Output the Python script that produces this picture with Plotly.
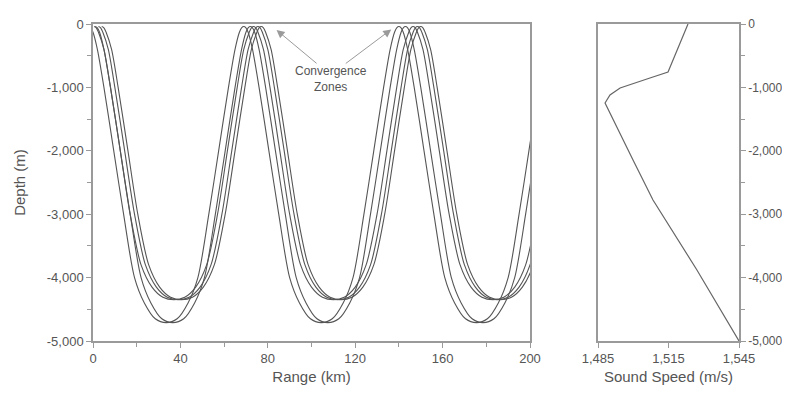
import plotly.graph_objects as go

# ---- Ray half-cycle shapes (km from a top, depth m) ----
deep_offset = [0, 1, 2, 4, 7, 11.5, 16, 21, 25.5, 30.5, 35.5]
deep_depth = [-40, -60, -130, -400, -1000, -2000, -3000, -4000, -4400, -4650, -4710]
shallow_offset = [0, 1, 2, 4.5, 7.5, 12, 16.5, 21.5, 26.5, 31.5, 36.5]
shallow_depth = [-40, -60, -130, -400, -1000, -2000, -3000, -3800, -4150, -4310, -4350]

# upper turning points (km) of each ray
ray1_tops = [-2, 69, 140]
ray2_tops = [1, 72, 143]
ray3_tops = [0.5, 73.5, 146.5]
ray4_tops = [2.5, 75.5, 148.5]
ray5_tops = [4, 77, 150]

# ---- Sound speed profile ----
speed = [1523.3, 1514.8, 1507.1, 1494.4, 1490.1, 1488.0, 1499.9, 1508.4, 1527.1, 1545.0]
speed_depth = [0, -757, -852, -1010, -1120, -1246, -2145, -2776, -3880, -5000]

depth_ticks = [0, -1000, -2000, -3000, -4000, -5000]
depth_labels = ["0", "-1,000", "-2,000", "-3,000", "-4,000", "-5,000"]
range_ticks = [0, 40, 80, 120, 160, 200]
speed_ticks = [1485, 1515, 1545]
speed_labels = ["1,485", "1,515", "1,545"]


def ray_path(tops, off, dep):
    H = off[-1]
    xs, ys = [], []
    for t in tops:
        for o, d in zip(off, dep):
            xs.append(t + o)
            ys.append(d)
        for o, d in zip(reversed(off[1:-1]), reversed(dep[1:-1])):
            xs.append(t + 2 * H - o)
            ys.append(d)
    return xs, ys


rays = [
    (ray1_tops, deep_offset, deep_depth),
    (ray2_tops, deep_offset, deep_depth),
    (ray3_tops, shallow_offset, shallow_depth),
    (ray4_tops, shallow_offset, shallow_depth),
    (ray5_tops, shallow_offset, shallow_depth),
]

fig = go.Figure()
for tops, off, dep in rays:
    xs, ys = ray_path(tops, off, dep)
    fig.add_trace(go.Scatter(x=xs, y=ys, mode="lines",
                             line=dict(color="#555555", width=1.1, shape="spline", smoothing=0.8),
                             xaxis="x", yaxis="y", showlegend=False, hoverinfo="skip"))

fig.add_trace(go.Scatter(x=speed, y=speed_depth, mode="lines",
                         line=dict(color="#666666", width=1.2),
                         xaxis="x2", yaxis="y2", showlegend=False, hoverinfo="skip"))

axis_common = dict(showline=True, linecolor="#9a9a9a", linewidth=1.5, mirror=True,
                   ticks="outside", ticklen=5, tickcolor="#9a9a9a", showgrid=False,
                   zeroline=False, automargin=False,
                   tickfont=dict(size=13, color="#555555"))

W, H = 782, 389  # page body has an 8 px margin inside the 790x397 window
X0 = 8
Y0 = 8


def dx(p):
    return (p - X0) / W


def dy(q):
    return 1 - (q - Y0) / H


fig.update_layout(
    width=W, height=H,
    margin=dict(l=0, r=0, t=0, b=0),
    paper_bgcolor="white", plot_bgcolor="white",
    font=dict(family="Liberation Sans, Arial, sans-serif", color="#555555"),
    xaxis=dict(domain=[dx(93), dx(530)], range=[0, 200], anchor="y",
               tickmode="array", tickvals=range_ticks,
               minor=dict(dtick=20, tick0=0, ticks="outside", ticklen=4, tickcolor="#9a9a9a"),
               title=dict(text="Range (km)", font=dict(size=15, color="#555555"), standoff=6),
               **axis_common),
    yaxis=dict(domain=[dy(341), dy(24)], range=[-5000, 0], anchor="x",
               tickmode="array", tickvals=depth_ticks, ticktext=depth_labels,
               minor=dict(dtick=500, tick0=0, ticks="outside", ticklen=4, tickcolor="#9a9a9a"),
               title=dict(text="Depth (m)", font=dict(size=15, color="#555555"), standoff=18),
               **axis_common),
    xaxis2=dict(domain=[dx(598), dx(739)], range=[1485, 1545], anchor="y2",
                tickmode="array", tickvals=speed_ticks, ticktext=speed_labels,
                title=dict(text="Sound Speed (m/s)", font=dict(size=15, color="#555555"), standoff=6),
                **axis_common),
    yaxis2=dict(domain=[dy(341), dy(24)], range=[-5000, 0], anchor="x2", side="right",
                tickmode="array", tickvals=depth_ticks, ticktext=depth_labels,
                minor=dict(dtick=500, tick0=0, ticks="outside", ticklen=4, tickcolor="#9a9a9a"),
                **{k: v for k, v in axis_common.items() if k != "tickfont"},
                tickfont=dict(size=12, color="#555555")),
)

fig.add_annotation(x=109, y=-870, xref="x", yref="y", text="Convergence<br>Zones",
                   showarrow=False, font=dict(size=12, color="#555555"))
fig.add_annotation(x=84, y=-95, ax=103, ay=-640, xref="x", yref="y", axref="x", ayref="y",
                   text="", showarrow=True, arrowhead=2, arrowsize=1.6, arrowwidth=1,
                   arrowcolor="#9a9a9a")
fig.add_annotation(x=136.5, y=-85, ax=115, ay=-640, xref="x", yref="y", axref="x", ayref="y",
                   text="", showarrow=True, arrowhead=2, arrowsize=1.6, arrowwidth=1,
                   arrowcolor="#9a9a9a")

fig.write_html("out.html")
